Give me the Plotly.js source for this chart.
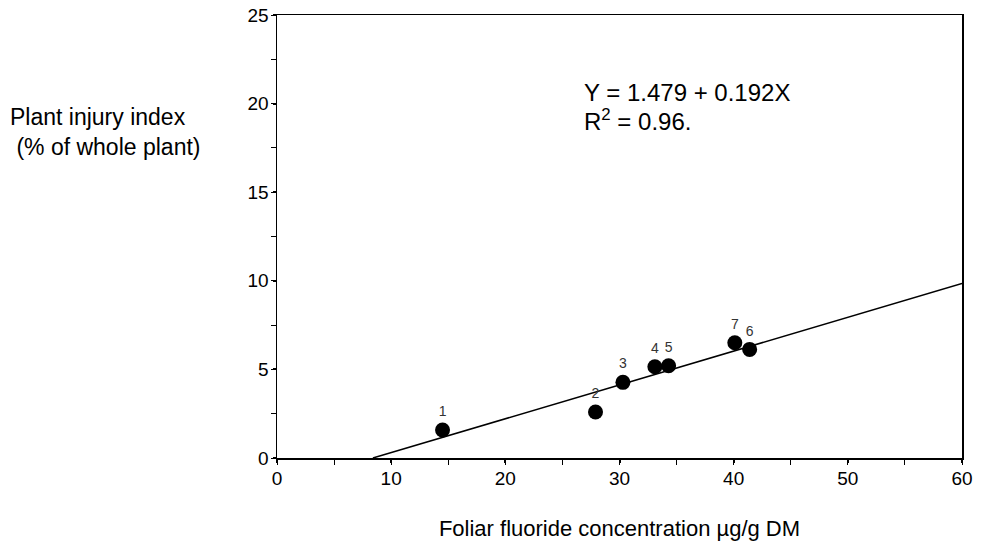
<!DOCTYPE html>
<html>
<head>
<meta charset="utf-8">
<script src="https://cdn.plot.ly/plotly-3.0.1.min.js"></script>
<style>html,body{margin:0;padding:0;background:#fff;}#chart{width:981px;height:544px;}</style>
</head>
<body>
<div id="chart"></div>
<script>
const pointLabels = ["1", "2", "3", "4", "5", "6", "7"];
const fluoride = [14.5, 27.9, 30.3, 33.1, 34.3, 41.4, 40.1];
const injury = [1.58, 2.6, 4.27, 5.15, 5.21, 6.13, 6.5];
const lineX = [8.4, 60];
const lineY = [0, 9.85];
const xTicks = [0, 10, 20, 30, 40, 50, 60];
const yTicks = [0, 5, 10, 15, 20, 25];

const font = "Liberation Sans, Arial, sans-serif";

const traces = [
  {
    x: lineX, y: lineY, mode: "lines", type: "scatter",
    line: {color: "#000", width: 1.5}, hoverinfo: "skip", cliponaxis: false
  },
  {
    x: fluoride, y: injury, mode: "markers+text", type: "scatter",
    text: pointLabels, textposition: "top center",
    textfont: {family: font, size: 14, color: "#333"},
    marker: {color: "#000", size: 15},
    cliponaxis: false
  }
];

const layout = {
  width: 981, height: 544,
  margin: {l: 277, r: 19, t: 15, b: 86},
  paper_bgcolor: "#fff", plot_bgcolor: "#fff",
  showlegend: false,
  font: {family: font, size: 19, color: "#000"},
  xaxis: {
    range: [0, 60], tickvals: xTicks, ticktext: xTicks.map(String),
    showgrid: false, zeroline: false,
    showline: true, linecolor: "#000", linewidth: 1.5, mirror: true,
    ticks: "outside", ticklen: 3, tickwidth: 2, tickcolor: "#000",
    minor: {dtick: 5, ticks: "outside", ticklen: 5, tickwidth: 1, tickcolor: "#000"},
    tickfont: {family: font, size: 19, color: "#000"},
    title: {text: "Foliar fluoride concentration µg/g DM", font: {family: font, size: 22, color: "#000"}, standoff: 32}
  },
  yaxis: {
    range: [0, 25], tickvals: yTicks, ticktext: yTicks.map(String),
    showgrid: false, zeroline: false,
    showline: true, linecolor: "#000", linewidth: 1.5, mirror: true,
    ticks: "outside", ticklen: 3, tickwidth: 2, tickcolor: "#000",
    minor: {dtick: 2.5, ticks: "outside", ticklen: 5, tickwidth: 1, tickcolor: "#000"},
    tickfont: {family: font, size: 19, color: "#000"}
  },
  annotations: [
    {xref: "paper", yref: "paper", x: -0.393, y: 0.735, xanchor: "left", yanchor: "middle",
     text: "Plant injury index<br> (% of whole plant)", showarrow: false, align: "left",
     font: {family: font, size: 23, color: "#000"}},
    {xref: "x", yref: "y", x: 26.7, y: 20.6, xanchor: "left", yanchor: "middle",
     text: "Y = 1.479 + 0.192X", showarrow: false, font: {family: font, size: 24, color: "#000"}},
    {xref: "x", yref: "y", x: 26.7, y: 19.05, xanchor: "left", yanchor: "middle",
     text: "R<sup>2</sup> = 0.96.", showarrow: false, font: {family: font, size: 24, color: "#000"}}
  ]
};

Plotly.newPlot("chart", traces, layout, {displayModeBar: false, staticPlot: true});
</script>
</body>
</html>
